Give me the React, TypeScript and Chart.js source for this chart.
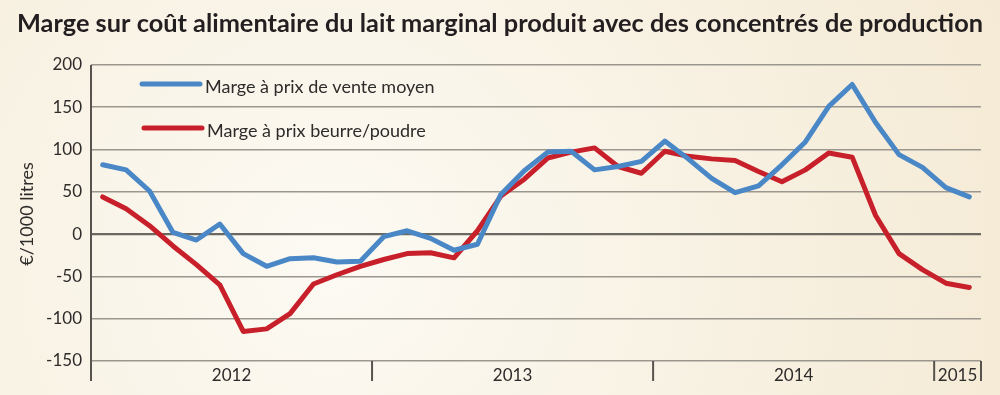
import React, { useEffect, useRef } from "react";
import { Chart, registerables } from "chart.js";

Chart.register(...registerables);

const TITLE = "Marge sur coût alimentaire du lait marginal produit avec des concentrés de production";
const Y_TITLE = "€/1000 litres";

const months = [
  "2012-01", "2012-02", "2012-03", "2012-04", "2012-05", "2012-06",
  "2012-07", "2012-08", "2012-09", "2012-10", "2012-11", "2012-12",
  "2013-01", "2013-02", "2013-03", "2013-04", "2013-05", "2013-06",
  "2013-07", "2013-08", "2013-09", "2013-10", "2013-11", "2013-12",
  "2014-01", "2014-02", "2014-03", "2014-04", "2014-05", "2014-06",
  "2014-07", "2014-08", "2014-09", "2014-10", "2014-11", "2014-12",
  "2015-01", "2015-02",
];

const yearLabels = ["2012", "2013", "2014", "2015"];
const yearStarts = [0, 12, 24, 36];

const venteMoyen = [
  82, 76, 51, 2, -7, 12, -23, -38, -29, -28, -33, -32,
  -3, 4, -5, -19, -12, 47, 75, 97, 98, 76, 80, 86,
  110, 89, 66, 49, 57, 82, 109, 151, 177, 132, 94, 79,
  55, 44,
];

const beurrePoudre = [
  44, 30, 10, -14, -36, -60, -115, -112, -94, -59, -48, -38,
  -30, -23, -22, -28, 4, 45, 65, 90, 97, 102, 80, 72,
  98, 92, 89, 87, 74, 62, 76, 96, 91, 22, -23, -42,
  -58, -63,
];

const seriesLabels = ["Marge à prix de vente moyen", "Marge à prix beurre/poudre"];
const seriesColors = ["#4a87c7", "#c8202b"];

const FONT = "Lato, 'Open Sans', sans-serif";
const TEXT = "#2e2c2b";

const decor = {
  id: "decor",
  beforeDraw(chart: any) {
    const { ctx, width, height } = chart;
    ctx.save();
    const g = ctx.createRadialGradient(330, 260, 0, 330, 260, 760);
    g.addColorStop(0, "#fcfaf3");
    g.addColorStop(1, "#f4e9d3");
    ctx.fillStyle = g;
    ctx.fillRect(0, 0, width, height);
    ctx.restore();
  },
  afterDraw(chart: any) {
    const { ctx, chartArea } = chart;
    const xs = chart.scales.x;
    ctx.save();

    // Title, stretched to the reference's width
    ctx.save();
    ctx.fillStyle = "#231f20";
    ctx.font = `bold 24px ${FONT}`;
    ctx.textAlign = "left";
    ctx.textBaseline = "alphabetic";
    const tw = ctx.measureText(TITLE).width;
    ctx.translate(17, 32);
    ctx.scale(966 / tw, 1);
    ctx.fillText(TITLE, 0, 0);
    ctx.restore();

    // Y axis title
    ctx.save();
    ctx.translate(27, 214);
    ctx.rotate(-Math.PI / 2);
    ctx.font = `18px ${FONT}`;
    ctx.fillStyle = TEXT;
    ctx.textAlign = "center";
    ctx.textBaseline = "middle";
    ctx.fillText(Y_TITLE, 0, 0);
    ctx.restore();

    const axisBottom = chartArea.bottom + 20;
    ctx.strokeStyle = "#57534e";
    ctx.lineWidth = 2;
    // y axis line
    ctx.beginPath();
    ctx.moveTo(chartArea.left, chartArea.top);
    ctx.lineTo(chartArea.left, axisBottom);
    ctx.stroke();

    // Year separators and labels
    const step = xs.getPixelForValue(1) - xs.getPixelForValue(0);
    const boundary = (i: number) => xs.getPixelForValue(0) - step / 2 + i * step;
    const ends = [...yearStarts.slice(1), months.length];
    ctx.font = `17px ${FONT}`;
    ctx.fillStyle = TEXT;
    ctx.textAlign = "center";
    ctx.textBaseline = "middle";
    yearLabels.forEach((lab, k) => {
      const x0 = boundary(yearStarts[k]);
      const x1 = boundary(ends[k]);
      ctx.beginPath();
      ctx.moveTo(x1, chartArea.bottom);
      ctx.lineTo(x1, axisBottom);
      ctx.stroke();
      ctx.fillText(lab, (x0 + x1) / 2, chartArea.bottom + 14.5);
    });

    // Legend
    const legendRows = [
      { y: 84, x0: 142, x1: 200, tx: 205 },
      { y: 128, x0: 144, x1: 202, tx: 207 },
    ];
    legendRows.forEach((r, i) => {
      ctx.strokeStyle = seriesColors[i];
      ctx.lineWidth = 5;
      ctx.lineCap = "round";
      ctx.beginPath();
      ctx.moveTo(r.x0, r.y);
      ctx.lineTo(r.x1, r.y);
      ctx.stroke();
      ctx.fillStyle = TEXT;
      ctx.font = `18px ${FONT}`;
      ctx.textAlign = "left";
      ctx.textBaseline = "middle";
      ctx.fillText(seriesLabels[i], r.tx, r.y + 3, i === 0 ? 233 : 220);
    });
    ctx.restore();
  },
};

export default function App() {
  const ref = useRef<HTMLCanvasElement | null>(null);

  useEffect(() => {
    if (!ref.current) return;
    const chart = new Chart(ref.current, {
      type: "line",
      data: {
        labels: months,
        datasets: [
          {
            label: seriesLabels[0],
            data: venteMoyen,
            borderColor: seriesColors[0],
            borderWidth: 5,
            pointRadius: 0,
            tension: 0,
            borderJoinStyle: "round",
            borderCapStyle: "round",
          },
          {
            label: seriesLabels[1],
            data: beurrePoudre,
            borderColor: seriesColors[1],
            borderWidth: 5,
            pointRadius: 0,
            tension: 0,
            borderJoinStyle: "round",
            borderCapStyle: "round",
          },
        ],
      },
      options: {
        responsive: false,
        animation: false,
        layout: { padding: { top: 65, right: 19, bottom: 34, left: 0 } },
        plugins: {
          legend: { display: false },
          tooltip: { enabled: false },
          title: { display: false },
        },
        scales: {
          x: {
            type: "category",
            offset: true,
            display: false,
          },
          y: {
            min: -150,
            max: 200,
            border: { display: false },
            ticks: {
              stepSize: 50,
              color: TEXT,
              padding: 9,
              font: { family: FONT, size: 17 },
            },
            grid: {
              drawTicks: false,
              color: (c: any) => (c.tick && c.tick.value === 0 ? "#6b6761" : "#9b978f"),
              lineWidth: (c: any) => (c.tick && c.tick.value === 0 ? 2.2 : 1.6),
            },
            afterFit: (scale: any) => {
              scale.width = 91;
            },
          },
        },
      },
      plugins: [decor],
    });
    return () => chart.destroy();
  }, []);

  return (
    <div style={{ position: "fixed", left: 0, top: 0, width: 1000, height: 395 }}>
      <canvas ref={ref} width={1000} height={395} />
    </div>
  );
}
